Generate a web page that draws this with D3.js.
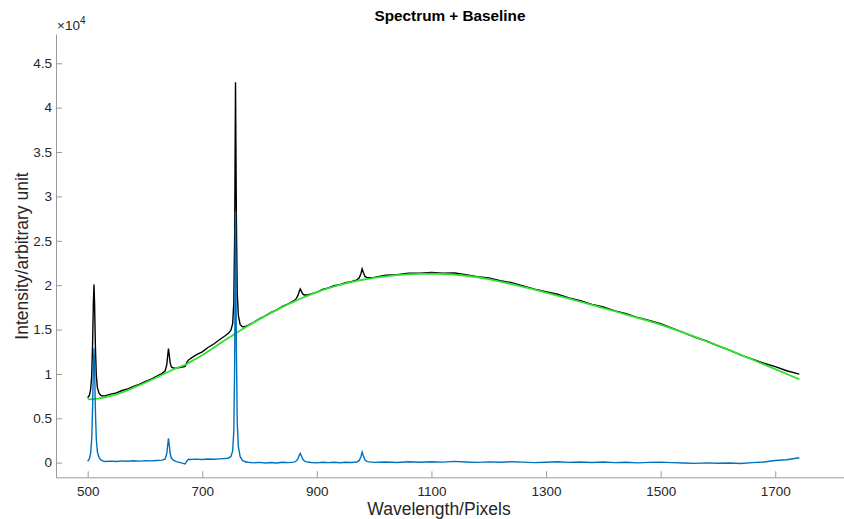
<!DOCTYPE html>
<html><head><meta charset="utf-8">
<script src="https://cdn.jsdelivr.net/npm/d3@7"></script>
<style>body{margin:0;background:#fff}svg{display:block}text{font-family:"Liberation Sans",Arial,sans-serif}</style>
</head><body><svg id="c" width="844" height="519"></svg>
<script>
// ---- data ----
const specX = [500,503,505,507,508.5,510,511,512,513.5,515,517,520,523,527,530,540,550,560,570,580,590,600,610,620,630,635,638,639.5,641,642.5,644,646,650,655,660,665,670,673,676,680,690,700,710,720,730,740,746,750,753,755,756.5,758,759.5,761,763,766,770,775,780,790,800,810,820,830,840,850,860,864,867,869,871,873,876,880,890,900,910,920,930,940,950,960,970,974,977,979,981,984,988,1000,1020,1040,1060,1080,1100,1120,1140,1160,1180,1200,1220,1240,1260,1280,1300,1320,1340,1360,1380,1400,1420,1440,1460,1480,1500,1520,1540,1560,1580,1600,1620,1640,1660,1680,1700,1720,1742];
const spectrum = [7300,7600,8160,9770,13170,18180,20080,17990,13000,9910,8420,7800,7590,7510,7520,7720,7850,8130,8310,8600,8810,9140,9390,9720,10060,10330,11020,11960,12860,12060,11210,10790,10640,10660,10720,10780,10840,11300,11580,11760,12170,12490,12980,13370,13850,14300,14600,14940,15650,17930,25490,42850,27610,19180,16560,15580,15300,15340,15490,15820,16230,16530,16940,17220,17620,17880,18250,18480,18840,19250,19570,19300,18960,18860,19020,19220,19510,19680,19930,20050,20270,20400,20600,20820,21310,21830,21450,20980,20830,20880,21120,21190,21360,21360,21440,21360,21370,21190,20960,20800,20500,20280,19920,19540,19260,18970,18560,18260,17840,17540,17100,16790,16350,16020,15660,15150,14660,14130,13710,13160,12680,12110,11670,11200,10830,10360,9980];
const corrected = [150,450,1000,2600,6000,11000,12900,10800,5800,2700,1200,550,300,170,130,170,130,200,160,210,170,230,200,250,280,400,1000,1900,2750,1900,1000,520,250,120,40,-60,-150,200,380,350,400,360,420,380,430,460,520,700,1300,3500,11000,28300,13000,4500,1800,700,260,100,40,-20,30,-40,20,-30,40,0,60,180,450,800,1050,750,320,120,20,-20,40,0,50,-10,40,20,80,250,700,1200,800,300,120,30,80,20,100,50,110,60,140,80,30,90,40,110,60,0,50,100,30,80,20,70,0,50,-20,30,60,0,-40,-80,-20,-70,-40,-90,0,80,250,330,550];
const baseX = [500,510,520,530,540,550,560,570,580,590,600,610,620,630,640,650,660,670,680,690,700,710,720,730,740,750,760,770,780,790,800,810,820,830,840,850,860,870,880,890,900,910,920,930,940,950,960,970,980,990,1000,1020,1040,1060,1080,1100,1120,1140,1160,1180,1200,1220,1240,1260,1280,1300,1320,1340,1360,1380,1400,1420,1440,1460,1480,1500,1520,1540,1560,1580,1600,1620,1640,1660,1680,1700,1720,1742];
const baseline = [7140,7175,7250,7370,7520,7700,7910,8160,8450,8720,9000,9290,9590,9900,10220,10520,10780,11020,11380,11740,12100,12530,12960,13390,13810,14220,14630,15030,15420,15800,16170,16530,16880,17220,17540,17850,18150,18440,18710,18970,19210,19440,19650,19850,20030,20200,20350,20490,20610,20720,20820,21000,21130,21220,21270,21290,21260,21180,21060,20890,20670,20410,20120,19810,19490,19160,18820,18480,18130,17780,17420,17060,16690,16320,15940,15550,15110,14650,14170,13680,13180,12670,12150,11620,11080,10540,9990,9385];
const xTicks = [500,700,900,1100,1300,1500,1700];
const yTicks = [0,5000,10000,15000,20000,25000,30000,35000,40000,45000];
const yTickLabels = ["0","0.5","1","1.5","2","2.5","3","3.5","4","4.5"];

// ---- chart ----
const svg = d3.select("#c");
const L = 56, R = 844, T = 34, B = 477.3;
const x = d3.scaleLinear().domain([444.7, 1820]).range([L, R]);
const y = d3.scaleLinear().domain([-1650, 48300]).range([B, T]);
const axisCol = "#9a9a9a", txtCol = "#262626";

const line = d3.line().x(d => x(d[0])).y(d => y(d[1]));
const specPts = specX.map((v, i) => [v, spectrum[i]]);
const basePts = baseX.map((v, i) => [v, baseline[i]]);
const corrPts = specX.map((v, i) => [v, corrected[i]]);

svg.append("path").attr("d", line(specPts)).attr("fill", "none").attr("stroke", "#000").attr("stroke-width", 1.4);
svg.append("path").attr("d", line(basePts)).attr("fill", "none").attr("stroke", "#2ee22e").attr("stroke-width", 1.8);
svg.append("path").attr("d", line(corrPts)).attr("fill", "none").attr("stroke", "#0072BD").attr("stroke-width", 1.4);

// axes
const xAxis = d3.axisBottom(x).tickValues(xTicks).tickFormat(d3.format("d")).tickSizeInner(-6).tickSizeOuter(0).tickPadding(9);
const gx = svg.append("g").attr("transform", `translate(0,${B})`).call(xAxis);
const yAxis = d3.axisLeft(y).tickValues(yTicks).tickFormat((d, i) => yTickLabels[i]).tickSizeInner(-6).tickSizeOuter(0).tickPadding(4);
const gy = svg.append("g").attr("transform", `translate(${L},0)`).call(yAxis);
[gx, gy].forEach(g => {
  g.select(".domain").attr("stroke", axisCol).attr("stroke-width", 1);
  g.selectAll(".tick line").attr("stroke", axisCol);
  g.selectAll(".tick text").attr("fill", txtCol).style("font-size", "13.5px").style("font-family", '"Liberation Sans",Arial,sans-serif');
});

// exponent label
const ex = svg.append("text").attr("x", 57).attr("y", 30).attr("fill", txtCol).style("font-size", "13.5px");
ex.append("tspan").text("\u00d710");
ex.append("tspan").attr("dy", -6).style("font-size", "10px").text("4");

// title & labels
svg.append("text").attr("x", 450).attr("y", 21).attr("text-anchor", "middle").attr("fill", "#000")
  .style("font-size", "15.3px").style("font-weight", "bold").text("Spectrum + Baseline");
svg.append("text").attr("x", 439).attr("y", 515).attr("text-anchor", "middle").attr("fill", txtCol)
  .style("font-size", "17.5px").text("Wavelength/Pixels");
svg.append("text").attr("transform", "translate(27.5,256) rotate(-90)").attr("text-anchor", "middle").attr("fill", txtCol)
  .style("font-size", "17.5px").text("Intensity/arbitrary unit");
</script></body></html>
